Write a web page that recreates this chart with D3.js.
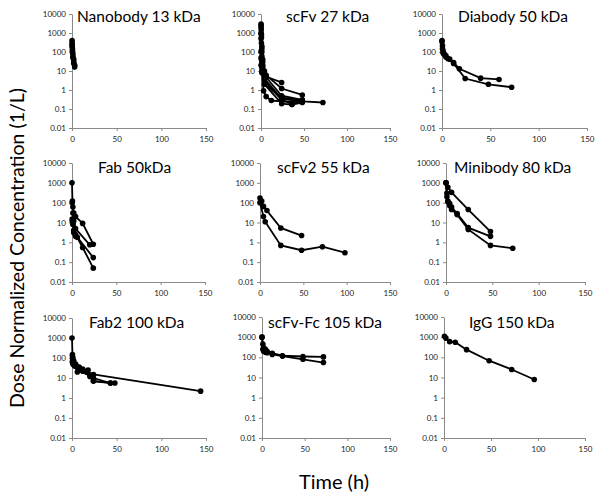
<!DOCTYPE html>
<html><head><meta charset="utf-8">
<script src="https://cdn.jsdelivr.net/npm/d3@7"></script>
<style>
html,body{margin:0;padding:0;background:#fff;}
svg{display:block;font-family:Lato, "Open Sans", sans-serif;}
</style></head>
<body>
<svg id="chart" width="604" height="502"></svg>
<script>
// ---------- data ----------
const panelTitles = ["Nanobody 13 kDa","scFv 27 kDa","Diabody 50 kDa","Fab 50kDa","scFv2 55 kDa","Minibody 80 kDa","Fab2 100 kDa","scFv-Fc 105 kDa","IgG 150 kDa"];
const yTickValues = [0.01,0.1,1,10,100,1000,10000];
const yTickLabels = ["0.01","0.1","1","10","100","1000","10000"];
const xTickValues = [0,50,100,150];
const xTickLabels = ["0","50","100","150"];
const yAxisTitle = "Dose Normalized Concentration (1/L)";
const xAxisTitle = "Time (h)";

// each series: list of [time (h), dose-normalized concentration (1/L)]
const nanobodySeries = [
  [[0.08,400],[0.25,250],[0.5,150],[1,80],[2,40],[3,20]],
  [[0.08,300],[0.5,120],[1,60],[2,25],[3,16]],
  [[0.08,200],[0.5,100],[1,50],[2,30]]
];
const scfvSeries = [
  [[0.08,3000],[0.25,1500],[0.5,600],[1,150],[2,30],[4,8],[6,5],[24,2.5]],
  [[0.08,2500],[0.5,800],[1,200],[2,40],[4,10],[6,6],[24,1.2],[48,0.55]],
  [[0.08,2000],[0.25,900],[1,100],[2,20],[4,6],[24,0.5],[48,0.3]],
  [[0.08,1000],[0.5,300],[1,60],[2,15],[4,4],[24,0.35],[48,0.25],[72,0.22]],
  [[0.08,500],[0.5,120],[1,30],[4,3],[24,0.3],[36,0.18],[48,0.28]],
  [[0.08,100],[0.5,40],[1,15],[4,2],[24,0.19],[36,0.17],[48,0.22]],
  [[0.08,50],[1,10],[3,0.9],[6,0.45],[12,0.28],[24,0.25],[48,0.25]],
  [[0.08,20],[1,8],[4,2],[24,0.4],[48,0.3]]
];
const diabodySeries = [
  [[0,400],[0.5,220],[1,120],[2,85],[4,65],[8,42],[12,28],[18,13],[40,4.2],[59,3.6]],
  [[0,350],[0.5,150],[1,90],[2,75],[4,55],[6,45],[12,25],[24,4],[48,2],[72,1.4]]
];
const fabSeries = [
  [[0,1000],[0.5,120],[1,60],[2,30],[4,20],[12,9],[24,0.8]],
  [[0.25,100],[1,30],[2,12],[4,5],[20,0.75]],
  [[0.25,15],[1,10],[2,4],[4,2.5],[12,0.55],[24,0.05]],
  [[0.25,12],[1,8],[2,3],[4,2],[6,1.8],[24,0.17]]
];
const scfv2Series = [
  [[0,170],[2,120],[4,65],[8,40],[24,5.3],[48,2.2]],
  [[0,100],[4,20],[6,11],[24,0.7],[48,0.4],[72,0.6],[98,0.3]]
];
const minibodySeries = [
  [[0,1000],[2,600],[6,330],[24,45],[48,3.5]],
  [[0,1000],[1,300],[2,120],[4,90],[6,60],[12,28],[24,5.5],[48,2]],
  [[0,1000],[1,200],[2,110],[4,70],[6,45],[12,25],[24,4.5],[48,0.7],[72,0.5]]
];
const fab2Series = [
  [[0,1000],[0.5,150],[1,100],[2,70],[4,50],[8,35],[12,28],[24,15],[144,2.2]],
  [[0.5,120],[1,80],[2,55],[4,45],[6,35],[12,25],[18,25],[24,7],[48,5.6]],
  [[0.5,70],[1,50],[3,40],[6,20],[12,22],[20,12],[24,7],[43,5.6]],
  [[0.5,60],[2,45],[4,40],[8,30],[16,20],[24,10],[43,5.6]]
];
const scfvFcSeries = [
  [[0,1000],[1,450],[2,300],[4,250],[6,200],[12,160],[24,120],[48,110],[72,105]],
  [[0,1000],[1,250],[2,200],[4,180],[6,170],[12,140],[24,115],[48,80],[72,55]]
];
const iggSeries = [
  [[0.5,1100],[2,900],[6,600],[12,560],[24,240],[48,68],[72,25],[96,8]]
];
const allSeries = [nanobodySeries,scfvSeries,diabodySeries,fabSeries,scfv2Series,minibodySeries,fab2Series,scfvFcSeries,iggSeries];

// ---------- layout (pixel geometry of each small plot) ----------
const layout = [
  {x0:72, x1:206, yT:14, yB:128, tx:77, ty:22},
  {x0:261,x1:390, yT:14, yB:128, tx:286, ty:22},
  {x0:442,x1:587, yT:14, yB:128, tx:458, ty:22},
  {x0:72, x1:205, yT:163,yB:282, tx:98, ty:173},
  {x0:260,x1:390, yT:163,yB:282, tx:277, ty:173},
  {x0:446,x1:585, yT:163,yB:282, tx:454, ty:173},
  {x0:72, x1:206, yT:318,yB:438, tx:89, ty:328},
  {x0:262,x1:390, yT:317,yB:438, tx:268, ty:328},
  {x0:444,x1:585, yT:317,yB:438, tx:469, ty:328}
];

const svg = d3.select("#chart");
const axisColor = "#8a8a8a";

allSeries.forEach((seriesList, i) => {
  const L = layout[i];
  const x = d3.scaleLinear().domain([0,150]).range([L.x0, L.x1]);
  const y = d3.scaleLog().domain([0.01,10000]).range([L.yB, L.yT]);
  const g = svg.append("g");

  const yAx = g.append("g").attr("transform",`translate(${L.x0},0)`)
    .call(d3.axisLeft(y).tickValues(yTickValues).tickFormat((d,k)=>yTickLabels[k]).tickSize(3).tickSizeOuter(0).tickPadding(3));
  const xAx = g.append("g").attr("transform",`translate(0,${L.yB})`)
    .call(d3.axisBottom(x).tickValues(xTickValues).tickFormat((d,k)=>xTickLabels[k]).tickSize(3).tickSizeOuter(0).tickPadding(5));
  [yAx,xAx].forEach(a=>{
    a.selectAll("path,line").attr("stroke",axisColor).attr("stroke-width",1);
    a.selectAll("text").attr("fill","#222").style("font-size","8px").style("font-family","Lato, sans-serif");
  });

  const line = d3.line().x(d=>x(d[0])).y(d=>y(d[1]));
  seriesList.forEach(s=>{
    g.append("path").datum(s).attr("d",line).attr("fill","none").attr("stroke","#000").attr("stroke-width",1.8);
  });
  seriesList.forEach(s=>{
    g.selectAll(null).data(s).enter().append("circle")
      .attr("cx",d=>x(d[0])).attr("cy",d=>y(d[1])).attr("r",2.8).attr("fill","#000");
  });

  g.append("text").attr("x",L.tx).attr("y",L.ty).text(panelTitles[i])
    .attr("fill","#000").style("font-size","15.5px");
});

svg.append("text").attr("transform","translate(24,248) rotate(-90)")
  .attr("text-anchor","middle").style("font-size","19.5px").attr("fill","#000").text(yAxisTitle);
svg.append("text").attr("x",334).attr("y",489).attr("text-anchor","middle")
  .style("font-size","20px").attr("fill","#000").text(xAxisTitle);
</script>
</body></html>
